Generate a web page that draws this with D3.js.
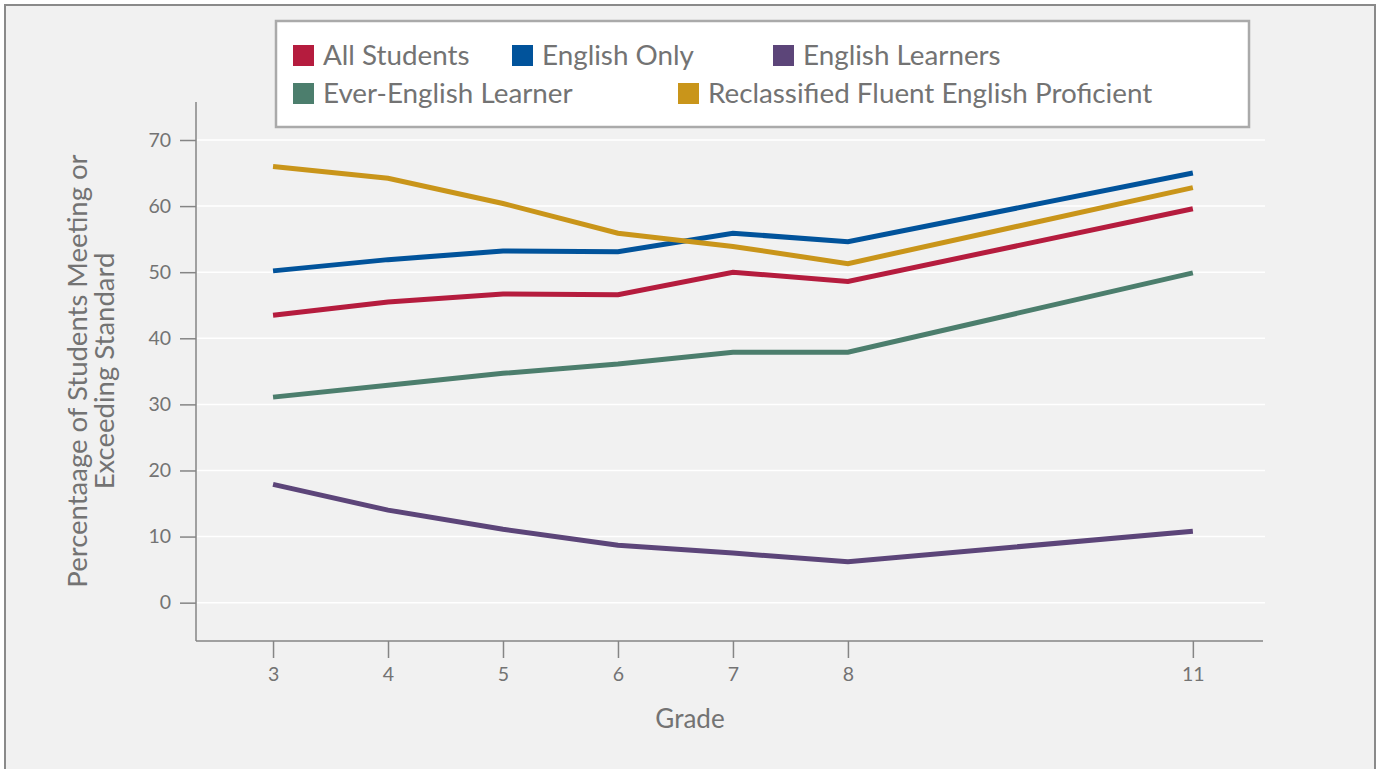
<!DOCTYPE html>
<html>
<head>
<meta charset="utf-8">
<script src="https://cdn.jsdelivr.net/npm/d3@7"></script>
<style>
    body { margin: 0; background: #ffffff; }
    text { font-family: Lato, "Open Sans", sans-serif; fill: #737373; }
</style>
</head>
<body>
<div id="chart"></div>
<script>
// grades on the x axis
var grades = [3, 4, 5, 6, 7, 8, 11];

// percentages per student group
var allStudents = [43.5, 45.5, 46.7, 46.6, 50.0, 48.6, 59.6];
var englishOnly = [50.2, 51.9, 53.2, 53.1, 55.9, 54.6, 65.0];
var englishLearners = [17.9, 14.0, 11.1, 8.7, 7.5, 6.2, 10.8];
var everEL = [31.1, 32.9, 34.7, 36.1, 37.9, 37.9, 49.9];
var rfep = [66.0, 64.2, 60.4, 55.9, 53.9, 51.3, 62.8];

var seriesNames = ["All Students", "English Only", "English Learners",
    "Ever-English Learner", "Reclassified Fluent English Proficient"];
var seriesValues = [allStudents, englishOnly, englishLearners, everEL, rfep];
var seriesColors = ["#b51c3e", "#01539b", "#5c4579", "#4c7e6d", "#c9951a"];

var yTicks = [0, 10, 20, 30, 40, 50, 60, 70];

var width = 1379, height = 769;

var svg = d3.select("#chart").append("svg")
    .attr("width", width)
    .attr("height", height);

// panel background + border
svg.append("rect")
    .attr("x", 5)
    .attr("y", 5)
    .attr("width", 1370)
    .attr("height", 790)
    .attr("fill", "#f1f1f1")
    .attr("stroke", "#8a8a8a")
    .attr("stroke-width", 2);

// scales
var x = d3.scaleLinear()
    .domain([2.33, 11.61])
    .range([196, 1263]);

var y = d3.scaleLinear()
    .domain([-5.8, 75.75])
    .range([641, 102]);

// gridlines
svg.append("g")
    .selectAll("line")
    .data(yTicks)
    .enter().append("line")
    .attr("x1", 197)
    .attr("x2", 1265)
    .attr("y1", function(d) { return y(d); })
    .attr("y2", function(d) { return y(d); })
    .attr("stroke", "#ffffff")
    .attr("stroke-width", 1.5);

// y axis
var yAxis = svg.append("g")
    .attr("transform", "translate(196,0)")
    .call(d3.axisLeft(y).tickValues(yTicks).tickSize(16).tickPadding(9));

// x axis
var xAxis = svg.append("g")
    .attr("transform", "translate(0,641)")
    .call(d3.axisBottom(x).tickValues(grades).tickSize(17).tickPadding(9));

[yAxis, xAxis].forEach(function(ax) {
    ax.select(".domain").attr("stroke", "#858585").attr("stroke-width", 1.5);
    ax.selectAll(".tick line").attr("stroke", "#858585").attr("stroke-width", 1.5);
    ax.selectAll(".tick text")
        .attr("fill", "#737373")
        .style("font-size", "19.5px")
        .style("font-family", "Lato, 'Open Sans', sans-serif");
});

// fix y domain path so it has no end ticks
yAxis.select(".domain").attr("d", "M0," + y(75.75) + "V" + y(-5.8));
xAxis.select(".domain").attr("d", "M" + x(2.33) + ",0H" + x(11.61));

// lines
var line = d3.line()
    .x(function(d, i) { return x(grades[i]); })
    .y(function(d) { return y(d); });

svg.append("g")
    .selectAll("path")
    .data(seriesValues)
    .enter().append("path")
    .attr("d", line)
    .attr("fill", "none")
    .attr("stroke", function(d, i) { return seriesColors[i]; })
    .attr("stroke-width", 5);

// axis titles
svg.append("text")
    .attr("x", 690)
    .attr("y", 728)
    .attr("text-anchor", "middle")
    .style("font-size", "26px")
    .text("Grade");

var yTitle = svg.append("text")
    .attr("transform", "translate(87,371) rotate(-90)")
    .attr("text-anchor", "middle")
    .style("font-size", "27.5px");
yTitle.append("tspan").attr("x", 0).attr("dy", 0).text("Percentaage of Students Meeting or");
yTitle.append("tspan").attr("x", 0).attr("dy", 27).text("Exceeding Standard");

// legend box
svg.append("rect")
    .attr("x", 276)
    .attr("y", 21)
    .attr("width", 973)
    .attr("height", 106)
    .attr("fill", "#ffffff")
    .attr("stroke", "#aaaaaa")
    .attr("stroke-width", 2.5);

var legendPos = [[293, 45], [512, 45], [773, 45], [293, 83], [678, 83]];

var legend = svg.selectAll(".legend")
    .data(seriesNames)
    .enter()
    .append("g")
    .attr("class", "legend")
    .attr("transform", function(d, i) {
        return "translate(" + legendPos[i][0] + "," + legendPos[i][1] + ")";
    });

legend.append("rect")
    .attr("width", 21)
    .attr("height", 21)
    .attr("fill", function(d, i) { return seriesColors[i]; });

legend.append("text")
    .attr("x", 30)
    .attr("y", 20)
    .style("font-size", "27.8px")
    .text(function(d) { return d; });
</script>
</body>
</html>
